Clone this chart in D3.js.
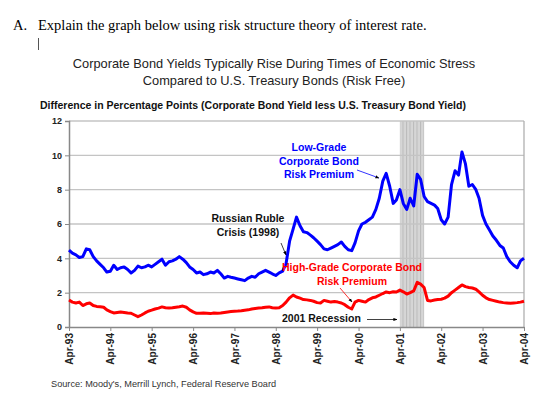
<!DOCTYPE html>
<html>
<head>
<meta charset="utf-8">
<script src="https://cdn.jsdelivr.net/npm/d3@7"></script>
<style>
  body { margin: 0; background: #fff; }
  svg text { font-family: "Liberation Sans", Arial, sans-serif; }
</style>
</head>
<body>
<div id="chart"></div>
<script>
// monthly spreads, Apr-93 .. Apr-04
const lowGrade = [
  4.48, 4.3, 4.2, 4.05, 4.1, 4.55, 4.5, 4.1, 3.85, 3.65, 3.45, 3.2,
  3.25, 3.6, 3.35, 3.45, 3.5, 3.35, 3.15, 3.3, 3.55, 3.45, 3.5, 3.6,
  3.5, 3.65, 3.8, 3.95, 3.6, 3.8, 3.85, 3.95, 4.1, 3.95, 3.75, 3.5,
  3.35, 3.15, 3.2, 3.05, 3.1, 3.2, 3.15, 3.3, 3.1, 2.85, 2.95, 2.9,
  2.85, 2.8, 2.75, 2.7, 2.85, 2.95, 2.9, 3.1, 3.2, 3.3, 3.2, 3.1,
  3.0, 3.15, 3.25, 3.7, 5.0, 5.7, 6.4, 5.9, 5.55, 5.5, 5.35, 5.2,
  5.0, 4.8, 4.55, 4.5, 4.6, 4.7, 4.8, 4.95, 4.7, 4.5, 4.45, 4.9,
  5.6, 6.0, 6.1, 6.25, 6.4, 6.85, 7.5, 8.5, 8.95, 8.2, 7.2, 7.4,
  8.0, 7.2, 6.85, 7.5, 7.05, 8.9, 8.6, 7.6, 7.3, 7.2, 7.1, 6.9,
  6.25, 6.0, 6.4, 8.3, 9.1, 8.85, 10.2, 9.5, 8.2, 8.3, 8.0, 7.5,
  6.5, 6.0, 5.65, 5.3, 5.05, 4.75, 4.6, 4.1, 3.8, 3.6, 3.45, 3.85,
  4.0
];
const highGrade = [
  1.57, 1.45, 1.4, 1.45, 1.25, 1.35, 1.4, 1.25, 1.2, 1.18, 1.15, 1.0,
  0.9, 0.82, 0.85, 0.88, 0.85, 0.82, 0.8, 0.7, 0.6, 0.7, 0.82, 0.92,
  0.98, 1.05, 1.1, 1.17, 1.12, 1.1, 1.12, 1.15, 1.18, 1.22, 1.15, 1.0,
  0.88, 0.8, 0.8, 0.82, 0.8, 0.78, 0.82, 0.8, 0.82, 0.85, 0.88, 0.9,
  0.92, 0.93, 0.95, 0.98, 1.0, 1.05, 1.08, 1.1, 1.12, 1.15, 1.17, 1.12,
  1.1, 1.12, 1.25, 1.45, 1.7, 1.86, 1.75, 1.68, 1.6, 1.58, 1.55, 1.5,
  1.42, 1.4, 1.55, 1.5, 1.45, 1.48, 1.45, 1.4, 1.3, 1.15, 1.05, 1.45,
  1.55, 1.5, 1.45, 1.6, 1.7, 1.75, 1.85, 1.95, 2.04, 2.0, 2.05, 2.04,
  2.15, 2.05, 1.92, 2.0, 2.1, 2.6, 2.5, 2.3, 1.55, 1.52, 1.57, 1.6,
  1.62, 1.68, 1.8, 2.0, 2.15, 2.3, 2.45, 2.35, 2.3, 2.27, 2.2, 2.05,
  1.85, 1.7, 1.6, 1.55, 1.5, 1.45, 1.42, 1.4, 1.38, 1.4, 1.42, 1.45,
  1.5
];
const tickLabels = ['Apr-93', 'Apr-94', 'Apr-95', 'Apr-96', 'Apr-97', 'Apr-98',
  'Apr-99', 'Apr-00', 'Apr-01', 'Apr-02', 'Apr-03', 'Apr-04'];
const yTicks = [0, 2, 4, 6, 8, 10, 12];
const recession = [new Date(2001, 3, 1), new Date(2001, 10, 1)];

const width = 560;
const height = 415;
const margin = {top: 121, right: 36, bottom: 88, left: 69};

const svg = d3.select('#chart')
  .append('svg')
    .attr('width', width)
    .attr('height', height);

const start = new Date(1993, 3, 1);
const monthDate = i => d3.timeMonth.offset(start, i);

const x = d3.scaleTime()
  .domain([start, new Date(2004, 3, 1)])
  .range([margin.left, width - margin.right]);

const y = d3.scaleLinear()
  .domain([0, 12])
  .range([height - margin.bottom, margin.top]);

// question text
svg.append('text')
  .attr('x', 13).attr('y', 30)
  .style('font-family', '"Liberation Serif", "Times New Roman", serif')
  .style('font-size', '14.5px')
  .text('A.');
svg.append('text')
  .attr('x', 38).attr('y', 30)
  .style('font-family', '"Liberation Serif", "Times New Roman", serif')
  .style('font-size', '14.5px')
  .text('Explain the graph below using risk structure theory of interest rate.');
svg.append('line')
  .attr('x1', 38.5).attr('x2', 38.5)
  .attr('y1', 38).attr('y2', 50)
  .attr('stroke', '#555');

// titles
svg.append('text')
  .attr('x', 274).attr('y', 68)
  .attr('text-anchor', 'middle')
  .style('font-size', '12.8px')
  .attr('fill', '#222')
  .text('Corporate Bond Yields Typically Rise During Times of Economic Stress');
svg.append('text')
  .attr('x', 274).attr('y', 85)
  .attr('text-anchor', 'middle')
  .style('font-size', '12.8px')
  .attr('fill', '#222')
  .text('Compared to U.S. Treasury Bonds (Risk Free)');

svg.append('text')
  .attr('x', 40).attr('y', 109)
  .style('font-size', '10.5px')
  .style('font-weight', 'bold')
  .attr('fill', '#111')
  .text('Difference in Percentage Points (Corporate Bond Yield less U.S. Treasury Bond Yield)');

// recession shading with vertical hatching
const defs = svg.append('defs');
const pat = defs.append('pattern')
  .attr('id', 'hatch')
  .attr('patternUnits', 'userSpaceOnUse')
  .attr('width', 3.5).attr('height', 10);
pat.append('rect').attr('width', 3.5).attr('height', 10).attr('fill', '#d6d6d6');
pat.append('line')
  .attr('x1', 0.5).attr('x2', 0.5).attr('y1', 0).attr('y2', 10)
  .attr('stroke', '#bababa').attr('stroke-width', 1);

svg.append('rect')
  .attr('x', x(recession[0]))
  .attr('y', y(12))
  .attr('width', x(recession[1]) - x(recession[0]))
  .attr('height', y(0) - y(12))
  .attr('fill', 'url(#hatch)');

// grid
svg.append('g')
  .selectAll('line')
  .data(yTicks.filter(d => d > 0))
  .join('line')
    .attr('x1', margin.left)
    .attr('x2', width - margin.right)
    .attr('y1', d => y(d))
    .attr('y2', d => y(d))
    .attr('stroke', '#c4c4c4')
    .attr('stroke-width', 1.3);

svg.append('line')
  .attr('x1', width - margin.right).attr('x2', width - margin.right)
  .attr('y1', y(12)).attr('y2', y(0))
  .attr('stroke', '#b0b0b0').attr('stroke-width', 1.3);

// axes
const yAxis = svg.append('g')
  .attr('transform', `translate(${margin.left}, 0)`)
  .call(d3.axisLeft(y).tickValues(yTicks).tickSize(4).tickPadding(3));
yAxis.select('.domain').attr('stroke', '#888').attr('stroke-width', 1.5);
yAxis.selectAll('.tick line').attr('stroke', '#888');
yAxis.selectAll('text')
  .style('font-size', '9px')
  .style('font-weight', 'bold')
  .attr('fill', '#222');

const xAxis = svg.append('g')
  .attr('transform', `translate(0, ${height - margin.bottom})`)
  .call(d3.axisBottom(x)
    .tickValues(tickLabels.map((d, i) => new Date(1993 + i, 3, 1)))
    .tickFormat((d, i) => tickLabels[i])
    .tickSize(4)
    .tickSizeOuter(0));
xAxis.select('.domain').attr('stroke', '#888').attr('stroke-width', 1.5);
xAxis.selectAll('.tick line').attr('stroke', '#888');
xAxis.selectAll('text')
  .attr('transform', 'rotate(-90)')
  .attr('x', -6)
  .attr('y', 0)
  .attr('dy', '0.36em')
  .style('text-anchor', 'end')
  .style('font-size', '10px')
  .style('font-weight', 'bold')
  .attr('fill', '#222');

// series
const line = d3.line()
  .x((d, i) => x(monthDate(i)))
  .y(d => y(d));

svg.append('path')
  .datum(highGrade)
  .attr('d', line)
  .attr('fill', 'none')
  .attr('stroke', '#ff0000')
  .attr('stroke-width', 3)
  .attr('stroke-linejoin', 'round');

svg.append('path')
  .datum(lowGrade)
  .attr('d', line)
  .attr('fill', 'none')
  .attr('stroke', '#0000ff')
  .attr('stroke-width', 3)
  .attr('stroke-linejoin', 'round');

// annotations
defs.append('marker')
  .attr('id', 'arrow')
  .attr('viewBox', '0 0 10 10')
  .attr('refX', 9).attr('refY', 5)
  .attr('markerWidth', 5).attr('markerHeight', 5)
  .attr('orient', 'auto')
  .append('path')
    .attr('d', 'M0,1 L10,5 L0,9 Z')
    .attr('fill', '#000');

const addLabel = (lines, cx, y0, color) => {
  lines.forEach((t, i) => {
    svg.append('text')
      .attr('x', cx)
      .attr('y', y0 + i * 13.5)
      .attr('text-anchor', 'middle')
      .style('font-size', '10.5px')
      .style('font-weight', 'bold')
      .attr('fill', color)
      .text(t);
  });
};
const addArrow = (x1, y1, x2, y2, color) => {
  svg.append('line')
    .attr('x1', x1).attr('y1', y1)
    .attr('x2', x2).attr('y2', y2)
    .attr('stroke', color)
    .attr('stroke-width', 0.8)
    .attr('marker-end', 'url(#arrow)');
};

addLabel(['Low-Grade', 'Corporate Bond', 'Risk Premium'], 319, 151, '#0000ff');
addArrow(357, 170, 379, 178, '#0000ff');

addLabel(['Russian Ruble', 'Crisis (1998)'], 248, 222, '#111');
addArrow(281, 243, 286, 255, '#111');

addLabel(['High-Grade Corporate Bond', 'Risk Premium'], 352, 271, '#ff0000');
addArrow(340, 288, 352, 302, '#ff0000');

svg.append('text')
  .attr('x', 282).attr('y', 322)
  .style('font-size', '10.5px')
  .style('font-weight', 'bold')
  .attr('fill', '#111')
  .text('2001 Recession');
addArrow(367, 319.5, 397, 319.5, '#111');

// source
svg.append('text')
  .attr('x', 51).attr('y', 387)
  .style('font-size', '9.2px')
  .attr('fill', '#333')
  .text("Source:  Moody's, Merrill Lynch, Federal Reserve Board");
</script>
</body>
</html>
